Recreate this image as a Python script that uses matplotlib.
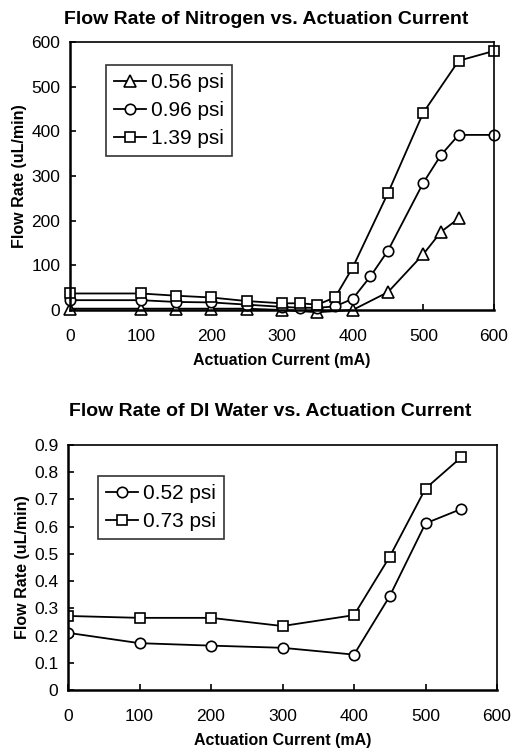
import matplotlib
matplotlib.use("Agg")
import matplotlib.pyplot as plt

plt.rcParams['font.family'] = ['Liberation Sans', 'DejaVu Sans']

# nitrogen data
n2_x_056 = [0, 100, 150, 200, 250, 300, 350, 400, 450, 500, 525, 550]
n2_y_056 = [3, 3, 3, 3, 3, 0, -5, 0, 40, 125, 175, 205]
n2_x_096 = [0, 100, 150, 200, 250, 300, 325, 350, 375, 400, 425, 450, 500, 525, 550, 600]
n2_y_096 = [22, 22, 18, 17, 12, 7, 5, 5, 8, 25, 75, 133, 285, 347, 392, 392]
n2_x_139 = [0, 100, 150, 200, 250, 300, 325, 350, 375, 400, 450, 500, 550, 600]
n2_y_139 = [37, 37, 32, 28, 20, 15, 15, 12, 28, 95, 262, 442, 558, 580]

# DI water data
w_x = [0, 100, 200, 300, 400, 450, 500, 550]
w_y_052 = [0.21, 0.172, 0.163, 0.155, 0.13, 0.345, 0.612, 0.665]
w_y_073 = [0.272, 0.265, 0.265, 0.235, 0.275, 0.49, 0.74, 0.855]

W, H = 511, 751
fig = plt.figure(figsize=(W / 100, H / 100), dpi=100)


def box(l, t, r, b):
    return [l / W, 1 - b / H, (r - l) / W, (b - t) / H]


def style(ax):
    for s in ax.spines.values():
        s.set_linewidth(1.2)
    ax.spines['left'].set_linewidth(1.8)
    ax.spines['bottom'].set_linewidth(1.8)
    ax.tick_params(direction='in', length=4, width=1.2, labelsize=12.5, pad=7)
    ax.tick_params(axis='x', pad=14)


kw = dict(color='black', lw=1.3, mfc='white', mec='black', mew=1.2)
legkw = dict(loc='upper left', fontsize=15, frameon=True, fancybox=False,
             edgecolor='black', handlelength=1.5, handletextpad=0.25,
             borderpad=0.4, labelspacing=0.42, borderaxespad=0)

ax1 = fig.add_axes(box(70, 42, 494, 310))
ax1.plot(n2_x_056, n2_y_056, marker='^', ms=8.5, label='0.56 psi', **kw)
ax1.plot(n2_x_096, n2_y_096, marker='o', ms=7.5, label='0.96 psi', **kw)
ax1.plot(n2_x_139, n2_y_139, marker='s', ms=7.5, label='1.39 psi', **kw)
ax1.set_xlim(0, 600)
ax1.set_ylim(0, 600)
ax1.set_xticks(range(0, 601, 100))
ax1.set_yticks(range(0, 601, 100))
style(ax1)
for ln in ax1.lines:
    ln.set_clip_on(False)
ax1.set_xlabel('Actuation Current (mA)', fontsize=11.5, fontweight='bold', labelpad=6)
ax1.set_ylabel('Flow Rate (uL/min)', fontsize=11.5, fontweight='bold', labelpad=3)
leg1 = ax1.legend(bbox_to_anchor=((106 - 70) / 424, (310 - 65) / 268), **legkw)
leg1.get_frame().set_linewidth(1.2)
fig.text(266 / W, 1 - 20 / H, 'Flow Rate of Nitrogen vs. Actuation Current',
         ha='center', va='center', fontsize=14, fontweight='bold')

ax2 = fig.add_axes(box(68, 445, 497, 690))
ax2.plot(w_x, w_y_052, marker='o', ms=7.5, label='0.52 psi', **kw)
ax2.plot(w_x, w_y_073, marker='s', ms=7.5, label='0.73 psi', **kw)
ax2.set_xlim(0, 600)
ax2.set_ylim(0, 0.9)
ax2.set_xticks(range(0, 601, 100))
yt = [i / 10 for i in range(10)]
ax2.set_yticks(yt)
ax2.set_yticklabels(['0'] + ['%.1f' % v for v in yt[1:]])
style(ax2)
ax2.set_xlabel('Actuation Current (mA)', fontsize=11.5, fontweight='bold', labelpad=6)
ax2.set_ylabel('Flow Rate (uL/min)', fontsize=11.5, fontweight='bold', labelpad=3)
leg2 = ax2.legend(bbox_to_anchor=((98 - 68) / 429, (690 - 476) / 245), **legkw)
leg2.get_frame().set_linewidth(1.2)
fig.text(270 / W, 1 - 412 / H, 'Flow Rate of DI Water vs. Actuation Current',
         ha='center', va='center', fontsize=14, fontweight='bold')

fig.savefig('out.png', dpi=100)
